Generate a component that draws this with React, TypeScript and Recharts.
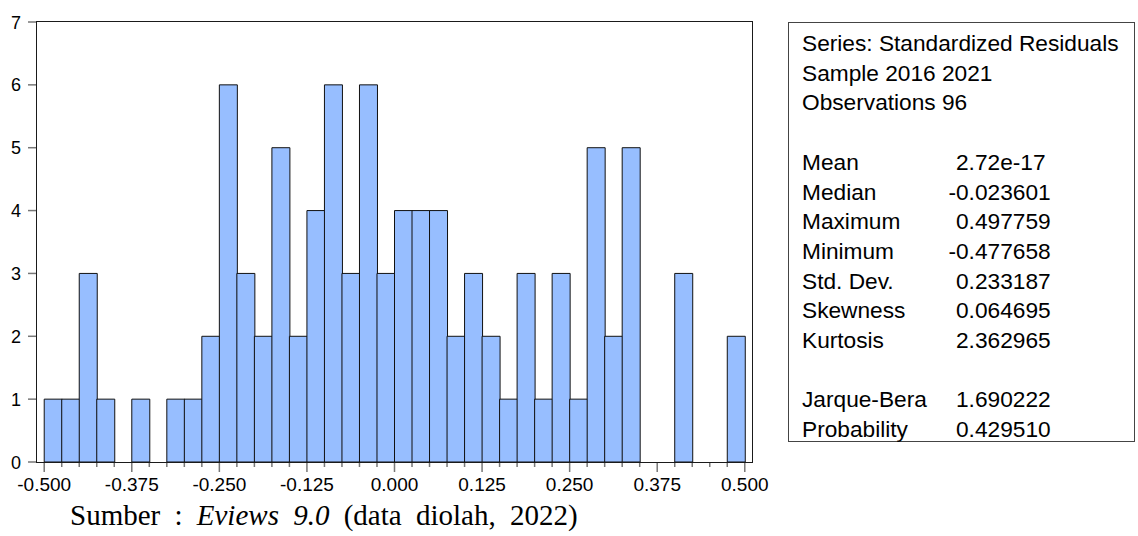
import React from 'react';
import { BarChart, Bar, XAxis, YAxis } from 'recharts';

// histogram bins (centre) and counts, bin width 0.025
const binCenter = [
  -0.4875, -0.4625, -0.4375, -0.4125, -0.3875, -0.3625, -0.3375, -0.3125, -0.2875, -0.2625,
  -0.2375, -0.2125, -0.1875, -0.1625, -0.1375, -0.1125, -0.0875, -0.0625, -0.0375, -0.0125,
  0.0125, 0.0375, 0.0625, 0.0875, 0.1125, 0.1375, 0.1625, 0.1875, 0.2125, 0.2375,
  0.2625, 0.2875, 0.3125, 0.3375, 0.3625, 0.3875, 0.4125, 0.4375, 0.4625, 0.4875,
];
const counts = [
  1, 1, 3, 1, 0, 1, 0, 1, 1, 2,
  6, 3, 2, 5, 2, 4, 6, 3, 6, 3,
  4, 4, 4, 2, 3, 2, 1, 3, 1, 3,
  1, 5, 2, 5, 0, 0, 3, 0, 0, 2,
];
const xTickValues = [
  -0.5, -0.475, -0.45, -0.425, -0.4, -0.375, -0.35, -0.325, -0.3, -0.275,
  -0.25, -0.225, -0.2, -0.175, -0.15, -0.125, -0.1, -0.075, -0.05, -0.025,
  0, 0.025, 0.05, 0.075, 0.1, 0.125, 0.15, 0.175, 0.2, 0.225,
  0.25, 0.275, 0.3, 0.325, 0.35, 0.375, 0.4, 0.425, 0.45, 0.475, 0.5,
];
const xLabelTicks = [-0.5, -0.375, -0.25, -0.125, 0, 0.125, 0.25, 0.375, 0.5];
const yTicks = [0, 1, 2, 3, 4, 5, 6, 7];

const headerLines = ['Series: Standardized Residuals', 'Sample 2016 2021', 'Observations 96'];
const statLabels = ['Mean', 'Median', 'Maximum', 'Minimum', 'Std. Dev.', 'Skewness', 'Kurtosis', '', 'Jarque-Bera', 'Probability'];
const statValues = ['2.72e-17', '-0.023601', '0.497759', '-0.477658', '0.233187', '0.064695', '2.362965', '', '1.690222', '0.429510'];

const data = binCenter.map((c, i) => ({ x: c, count: counts[i] }));

const FONT = '"Liberation Sans", Arial, sans-serif';
const LINE_H = 29.7;

const XTick = (props: any) => {
  const { x, y, payload } = props;
  const v = payload.value as number;
  const major = xLabelTicks.some((t) => Math.abs(t - v) < 1e-9);
  return (
    <g>
      <line x1={x} x2={x} y1={y} y2={y + (major ? 10 : 5)} stroke="#777" strokeWidth={1.5} />
      {major && (
        <text x={x} y={y + 29} textAnchor="middle" fontSize={19} fill="#000" fontFamily={FONT}>
          {v.toFixed(3)}
        </text>
      )}
    </g>
  );
};

const YTick = (props: any) => {
  const { x, y, payload } = props;
  return (
    <g>
      <line x1={x - 9} x2={x} y1={y} y2={y} stroke="#777" strokeWidth={1.5} />
      <text x={x - 16} y={y + 6.5} textAnchor="end" fontSize={18} fill="#000" fontFamily={FONT}>
        {payload.value}
      </text>
    </g>
  );
};

const StatsBox = () => (
  <div
    style={{
      position: 'absolute',
      left: 788,
      top: 22,
      width: 347,
      height: 420,
      boxSizing: 'border-box',
      border: '1px solid #444',
      fontFamily: FONT,
      fontSize: 22.7,
      color: '#000',
    }}
  >
    {headerLines.map((t, i) => (
      <div key={t} style={{ position: 'absolute', left: 13, top: 6 + i * LINE_H, lineHeight: `${LINE_H}px`, whiteSpace: 'nowrap' }}>
        {t}
      </div>
    ))}
    {statLabels.map((l, i) => (
      <React.Fragment key={i}>
        <div style={{ position: 'absolute', left: 13, top: 6 + (i + 4) * LINE_H, lineHeight: `${LINE_H}px`, whiteSpace: 'nowrap' }}>
          {l}
        </div>
        <div
          style={{
            position: 'absolute',
            left: 167,
            top: 6 + (i + 4) * LINE_H,
            lineHeight: `${LINE_H}px`,
            whiteSpace: 'nowrap',
            transform: statValues[i].startsWith('-') ? 'translateX(-0.333em)' : undefined,
          }}
        >
          {statValues[i]}
        </div>
      </React.Fragment>
    ))}
  </div>
);

export default function App() {
  return (
    <div style={{ position: 'absolute', left: 0, top: 0, width: 1138, height: 536, background: '#fff' }}>
      <BarChart
        width={780}
        height={500}
        data={data}
        margin={{ top: 22, right: 28, bottom: 0, left: 0 }}
        barCategoryGap={0}
        barGap={0}
      >
        <XAxis
          dataKey="x"
          type="number"
          domain={[-0.5103, 0.5103]}
          allowDataOverflow
          ticks={xTickValues}
          interval={0}
          tick={<XTick />}
          tickLine={false}
          tickSize={0}
          tickMargin={0}
          axisLine={false}
          height={38}
        />
        <YAxis
          domain={[0, 7]}
          ticks={yTicks}
          interval={0}
          width={37}
          tickSize={0}
          tickMargin={0}
          axisLine={false}
          tickLine={false}
          tick={<YTick />}
        />
        <Bar
          dataKey="count"
          fill="#97BEFF"
          stroke="#111"
          strokeWidth={1}
          isAnimationActive={false}
        />
      </BarChart>
      <div
        style={{
          position: 'absolute',
          left: 36,
          top: 21,
          width: 717,
          height: 442,
          boxSizing: 'border-box',
          border: '1.5px solid #1a1a1a',
          pointerEvents: 'none',
        }}
      />
      <StatsBox />
      <div
        style={{
          position: 'absolute',
          left: 70,
          top: 498,
          fontFamily: '"Liberation Serif", "Times New Roman", serif',
          fontSize: 29,
          wordSpacing: 7,
          lineHeight: '34px',
          color: '#000',
          whiteSpace: 'nowrap',
        }}
      >
        Sumber : <i>Eviews 9.0</i> (data diolah, 2022)
      </div>
    </div>
  );
}
